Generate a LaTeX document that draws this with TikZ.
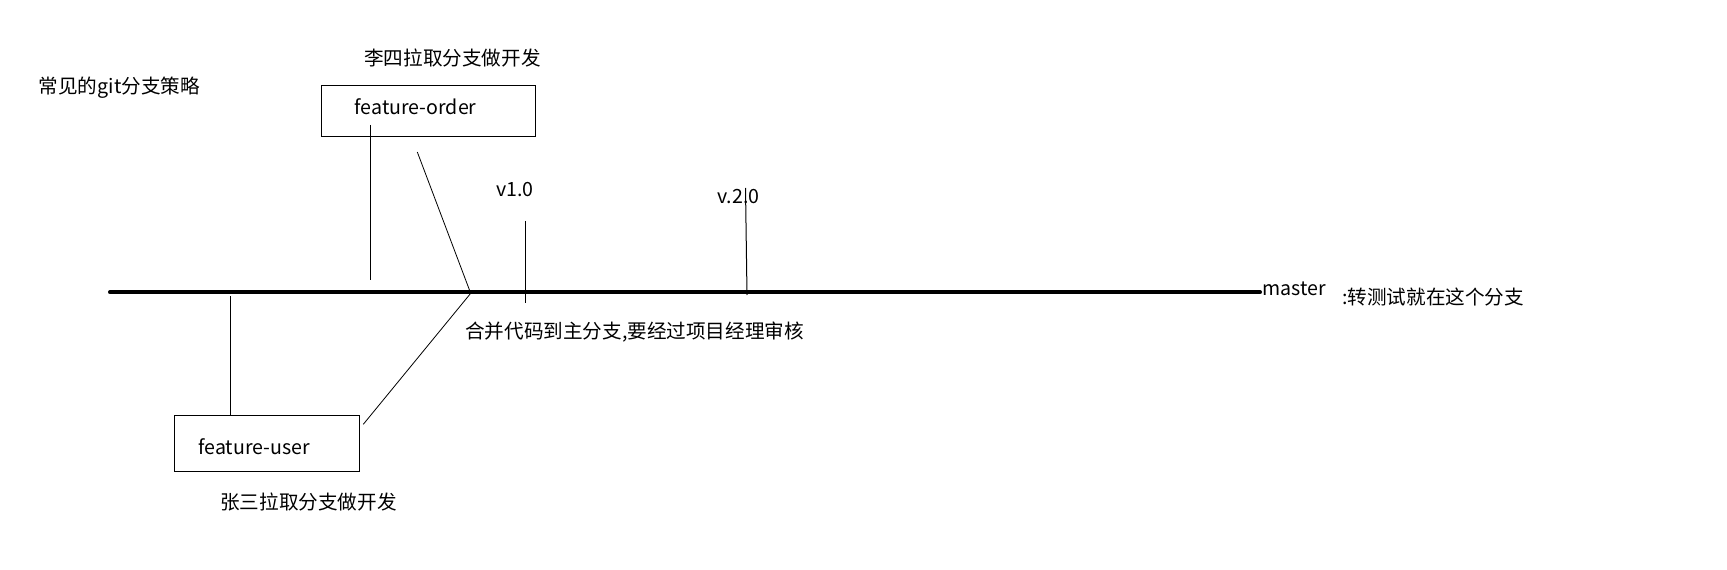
\documentclass[tikz,border=0pt]{standalone}
\usepackage{fontspec}
\setmainfont{Noto Sans CJK SC}
\begin{document}
\begin{tikzpicture}[x=0.75pt,y=-0.75pt,
  txt/.style={inner sep=0pt,font=\fontsize{14.7pt}{17pt}\selectfont},
  branchbox/.style={draw,line width=0.75pt,align=left,inner ysep=0pt,
    font=\fontsize{14.7pt}{17pt}\selectfont},
  thin/.style={line width=0.75pt},
  masterline/.style={line width=3pt,line cap=round}]
\useasboundingbox (0,0) rectangle (1727,570);
% texts
\node[txt,anchor=west] (title) at (38.5,87.5) {常见的git分支策略};
\node[txt,anchor=west] (lisi) at (364,58) {李四拉取分支做开发};
\node[txt,anchor=west] (zhangsan) at (220,502) {张三拉取分支做开发};
\node[txt,anchor=west] (v1) at (496,190) {v1.0};
\node[txt,anchor=west] (v2) at (717,197) {v.2.0};
\node[txt,anchor=west] (merge) at (465,332) {合并代码到主分支,要经过项目经理审核};
% boxes
\node[branchbox,text width=147.7*0.75pt,inner xsep=33*0.75pt,minimum height=50.7*0.75pt,
  text height=11pt,text depth=5.5pt]
  (fo) at (428.45,111.3) {feature-order};
\node[branchbox,text width=137*0.75pt,inner xsep=24*0.75pt,minimum height=56*0.75pt,
  text height=17pt,text depth=0pt]
  (fu) at (266.8,443.3) {feature-user};
% master
\coordinate (mL) at (110,292.3);
\coordinate (mR) at (1260,292.3);
\draw[masterline] (mL) -- (mR);
\node[txt,anchor=base west] (master) at (1262.5,296) {master};
\node[txt,anchor=west] (test) at (1342,297.5) {:转测试就在这个分支};
% connectors
\coordinate (foin) at (370,125);
\coordinate (foend) at (370,280);
\draw[thin] (foin) -- (foend);
\coordinate (dtop) at (417.3,152);
\coordinate (mergept) at (470.7,293.3);
\coordinate (dbot) at (363.3,424.3);
\draw[line width=0.6pt] (dtop) -- (mergept) -- (dbot);
\coordinate (fustart) at (230.3,296);
\draw[thin] (fustart) -- (fustart |- fu.north);
\coordinate (v1top) at (525.3,221);
\coordinate (v1bot) at (525.3,302.7);
\draw[thin] (v1top) -- (v1bot);
\coordinate (v2top) at (745.5,188);
\coordinate (v2bot) at (747,295);
\draw[thin] (v2top) -- (v2bot);
\end{tikzpicture}
\end{document}
